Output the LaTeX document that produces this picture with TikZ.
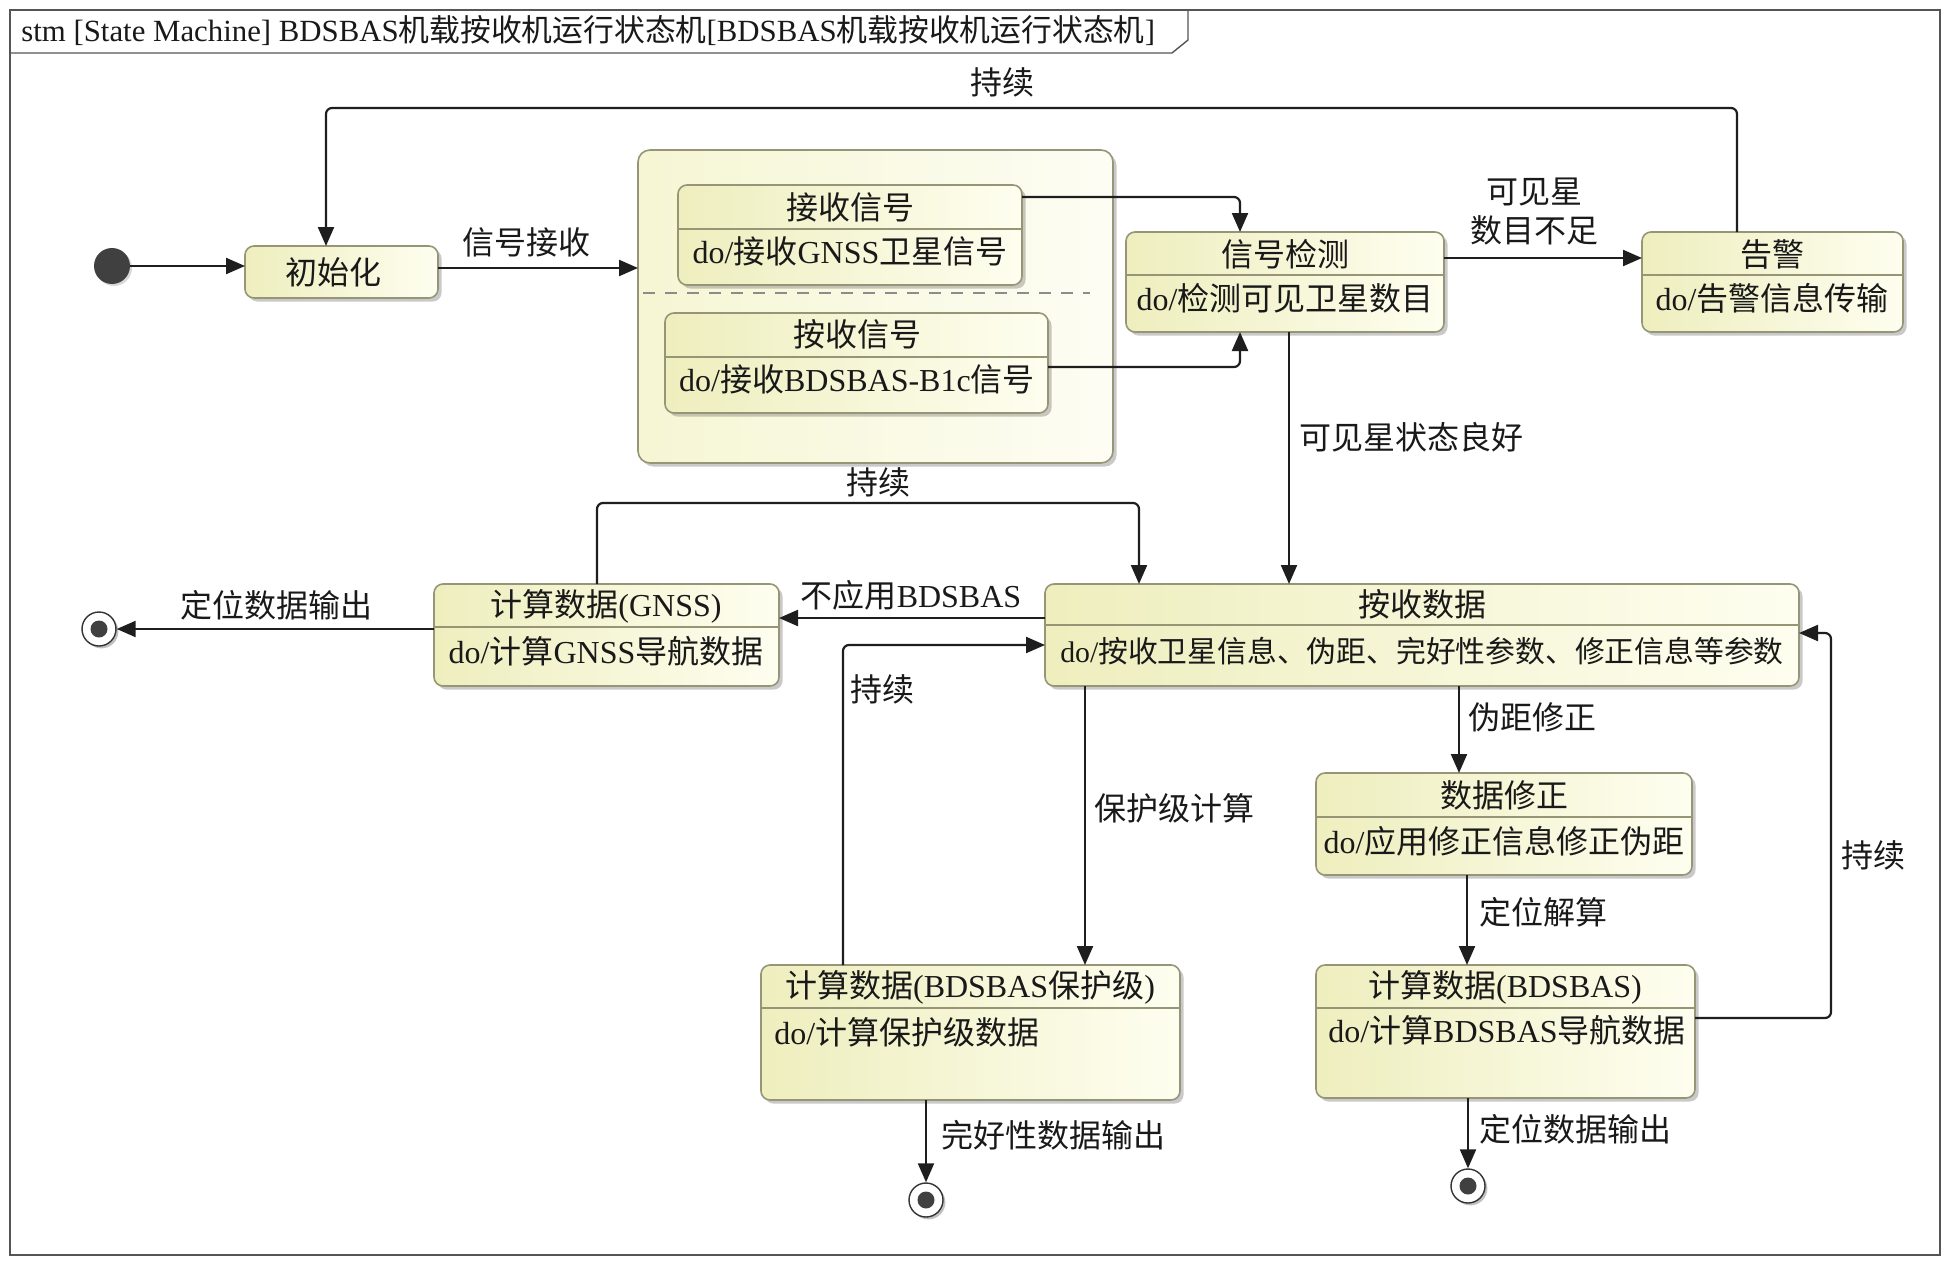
\documentclass[tikz,border=0pt]{standalone}
\usepackage{fontspec}
\setmainfont{Liberation Serif}
\newfontfamily\cjk{Noto Sans CJK SC}
\newcommand\zh[1]{{\cjk #1}}
\usetikzlibrary{arrows.meta,shadows}
\definecolor{stL}{RGB}{238,238,190}
\definecolor{stR}{RGB}{254,254,240}
\definecolor{stB}{RGB}{150,150,118}
\definecolor{cpL}{RGB}{246,246,212}
\definecolor{cpR}{RGB}{253,253,244}
\definecolor{lnC}{RGB}{30,30,30}
\definecolor{frC}{RGB}{85,85,85}
\tikzset{
  statebox/.style={draw=stB, line width=0.8pt, rounded corners=4.5pt, left color=stL, right color=stR,
     inner sep=0pt, outer sep=0pt,
     drop shadow={shadow xshift=1.8pt, shadow yshift=-1.8pt, opacity=0.35, fill=black!60}},
  compbox/.style={draw=stB, line width=0.8pt, rounded corners=6pt, left color=cpL, right color=cpR,
     inner sep=0pt, outer sep=0pt,
     drop shadow={shadow xshift=1.8pt, shadow yshift=-1.8pt, opacity=0.35, fill=black!60}},
  sepl/.style={draw=stB, line width=0.7pt},
  txt/.style={inner sep=0pt, font=\fontsize{16pt}{18pt}\selectfont, text=black!90},
  lbl/.style={inner sep=0pt, font=\fontsize{16pt}{19.5pt}\selectfont, text=black!90},
  tr/.style={draw=lnC, line width=1.1pt, rounded corners=3pt, -{Triangle[length=9.5pt,width=8pt]}},
  initst/.style={circle, fill=black!75, minimum size=18pt, inner sep=0pt,
     drop shadow={shadow xshift=1pt, shadow yshift=-1pt, opacity=0.3}},
  finst/.style={circle, draw=black!80, fill=white, line width=0.7pt, minimum size=17pt, inner sep=0pt,
     drop shadow={shadow xshift=1.2pt, shadow yshift=-1.2pt, opacity=0.4, fill=black!60}},
  findot/.style={circle, fill=black!75, minimum size=8.5pt, inner sep=0pt},
}
% name, x1, y1, x2, y2, style
\newcommand\ustate[6]{%
  \node[#6, minimum width={(#4-#2)*0.5pt}, minimum height={(#5-#3)*0.5pt}] (#1) at ({(#2+#4)/2},{(#3+#5)/2}) {};}
\newcommand\usep[2]{\draw[sepl] (#1.west |- 0,#2) -- (#1.east |- 0,#2);}
\begin{document}
\begin{tikzpicture}[x=0.5pt,y=-0.5pt]
\useasboundingbox (0,0) rectangle (1949,1263);
\fill[white] (0,0) rectangle (1949,1263);

% frame
\draw[frC, line width=1pt] (10,10) rectangle (1940,1255);
\draw[frC, line width=0.7pt] (10,53) -- (1172,53) -- (1188,40) -- (1188,10);
\node[lbl, anchor=west, font=\fontsize{15.4pt}{19pt}\selectfont] (title) at (21,31) {stm [State Machine] BDSBAS\zh{机载按收机运行状态机}[BDSBAS\zh{机载按收机运行状态机}]};

% initial
\node[initst] (init) at (112,266) {};

% states
\ustate{ini}{245}{246}{438}{298}{statebox}
\node[txt] (ini-t) at (333,272) {\zh{初始化}};

\ustate{comp}{638}{150}{1113}{463}{compbox}
\draw[draw=black!45, line width=0.8pt, dash pattern=on 6pt off 5pt] (643,293) coordinate (dsA) -- (1090,293) coordinate (dsB);

\ustate{s1}{678}{185}{1022}{285}{statebox}
\usep{s1}{229}
\node[txt] (s1-t) at (850,207) {\zh{接收信号}};
\node[txt] (s1-d) at (850,251) {do/\zh{接收}GNSS\zh{卫星信号}};

\ustate{s2}{665}{313}{1048}{413}{statebox}
\usep{s2}{357}
\node[txt] (s2-t) at (857,334) {\zh{按收信号}};
\node[txt] (s2-d) at (857,379) {do/\zh{接收}BDSBAS-B1c\zh{信号}};

\ustate{jc}{1126}{232}{1444}{332}{statebox}
\usep{jc}{275}
\node[txt] (jc-t) at (1285,254) {\zh{信号检测}};
\node[txt] (jc-d) at (1285,298) {do/\zh{检测可见卫星数目}};

\ustate{gj}{1642}{232}{1903}{332}{statebox}
\usep{gj}{275}
\node[txt] (gj-t) at (1772,254) {\zh{告警}};
\node[txt] (gj-d) at (1772,298) {do/\zh{告警信息传输}};

\ustate{jssj}{1045}{584}{1799}{686}{statebox}
\usep{jssj}{625}
\node[txt] (jssj-t) at (1422,604) {\zh{按收数据}};
\node[txt, font=\fontsize{14.9pt}{18pt}\selectfont] (jssj-d) at (1422,651) {do/\zh{按收卫星信息、伪距、完好性参数、修正信息等参数}};

\ustate{gnss}{434}{584}{779}{686}{statebox}
\usep{gnss}{627}
\node[txt] (gnss-t) at (606,606) {\zh{计算数据}(GNSS)};
\node[txt] (gnss-d) at (606,651) {do/\zh{计算}GNSS\zh{导航数据}};

\ustate{sjxz}{1316}{773}{1692}{875}{statebox}
\usep{sjxz}{817}
\node[txt] (sjxz-t) at (1504,795) {\zh{数据修正}};
\node[txt] (sjxz-d) at (1504,841) {do/\zh{应用修正信息修正伪距}};

\ustate{bds}{1316}{965}{1695}{1098}{statebox}
\usep{bds}{1008}
\node[txt] (bds-t) at (1505,987) {\zh{计算数据}(BDSBAS)};
\node[txt] (bds-d) at (1507,1030) {do/\zh{计算}BDSBAS\zh{导航数据}};

\ustate{bhj}{761}{965}{1180}{1100}{statebox}
\usep{bhj}{1008}
\node[txt] (bhj-t) at (970,987) {\zh{计算数据}(BDSBAS\zh{保护级})};
\node[txt, anchor=west] (bhj-d) at (774,1032) {do/\zh{计算保护级数据}};

% final states
\node[finst] (fin1) at (99,629) {}; \node[findot] (fin1d) at (fin1) {};
\node[finst] (fin2) at (926,1200) {}; \node[findot] (fin2d) at (fin2) {};
\node[finst] (fin3) at (1468,1186) {}; \node[findot] (fin3d) at (fin3) {};

% transitions
\draw[tr] (init.east) -- (init.east -| ini.west);
\draw[tr] (ini.east |- 0,268) -- (comp.west |- 0,268);
\node[lbl] (l-xhjs) at (526,242) {\zh{信号接收}};

\draw[tr] (s1.east |- 0,197) -| (jc.north -| 1240,0);
\draw[tr] (s2.east |- 0,367) -| (jc.south -| 1240,0);

\draw[tr] (jc.east |- 0,258) -- (gj.west |- 0,258);
\node[lbl, align=center] (l-bz) at (1534,212) {\zh{可见星}\\\zh{数目不足}};

\draw[tr] (gj.north -| 1737,0) |- (326,108) -- (ini.north -| 326,0);
\node[lbl] (l-cx1) at (1002,82) {\zh{持续}};

\draw[tr] (jc.south -| 1289,0) -- (jssj.north -| 1289,0);
\node[lbl, anchor=west] (l-lh) at (1299,437) {\zh{可见星状态良好}};

\draw[tr] (jssj.west |- 0,618) -- (gnss.east |- 0,618);
\node[lbl] (l-bdy) at (911,595) {\zh{不应用}BDSBAS};

\draw[tr] (gnss.west |- fin1) -- (fin1);
\node[lbl] (l-dw1) at (276,605) {\zh{定位数据输出}};

\draw[tr] (gnss.north -| 597,0) |- (1139,503) -- (jssj.north -| 1139,0);
\node[lbl] (l-cx2) at (878,482) {\zh{持续}};

\draw[tr] (jssj.south -| 1085,0) -- (bhj.north -| 1085,0);
\node[lbl, anchor=west] (l-bhj) at (1094,808) {\zh{保护级计算}};

\draw[tr] (bhj.north -| 843,0) |- (jssj.west |- 0,645);
\node[lbl] (l-cx3) at (882,689) {\zh{持续}};

\draw[tr] (bhj.south -| fin2) -- (fin2);
\node[lbl, anchor=west] (l-wh) at (941,1135) {\zh{完好性数据输出}};

\draw[tr] (jssj.south -| 1459,0) -- (sjxz.north -| 1459,0);
\node[lbl, anchor=west] (l-wj) at (1468,717) {\zh{伪距修正}};

\draw[tr] (sjxz.south -| 1467,0) -- (bds.north -| 1467,0);
\node[lbl, anchor=west] (l-dwjs) at (1479,912) {\zh{定位解算}};

\draw[tr] (bds.east |- 0,1018) -| (1831,633) -- (jssj.east |- 0,633);
\node[lbl] (l-cx4) at (1873,855) {\zh{持续}};

\draw[tr] (bds.south -| fin3) -- (fin3);
\node[lbl, anchor=west] (l-dw2) at (1479,1129) {\zh{定位数据输出}};
\end{tikzpicture}
\end{document}
